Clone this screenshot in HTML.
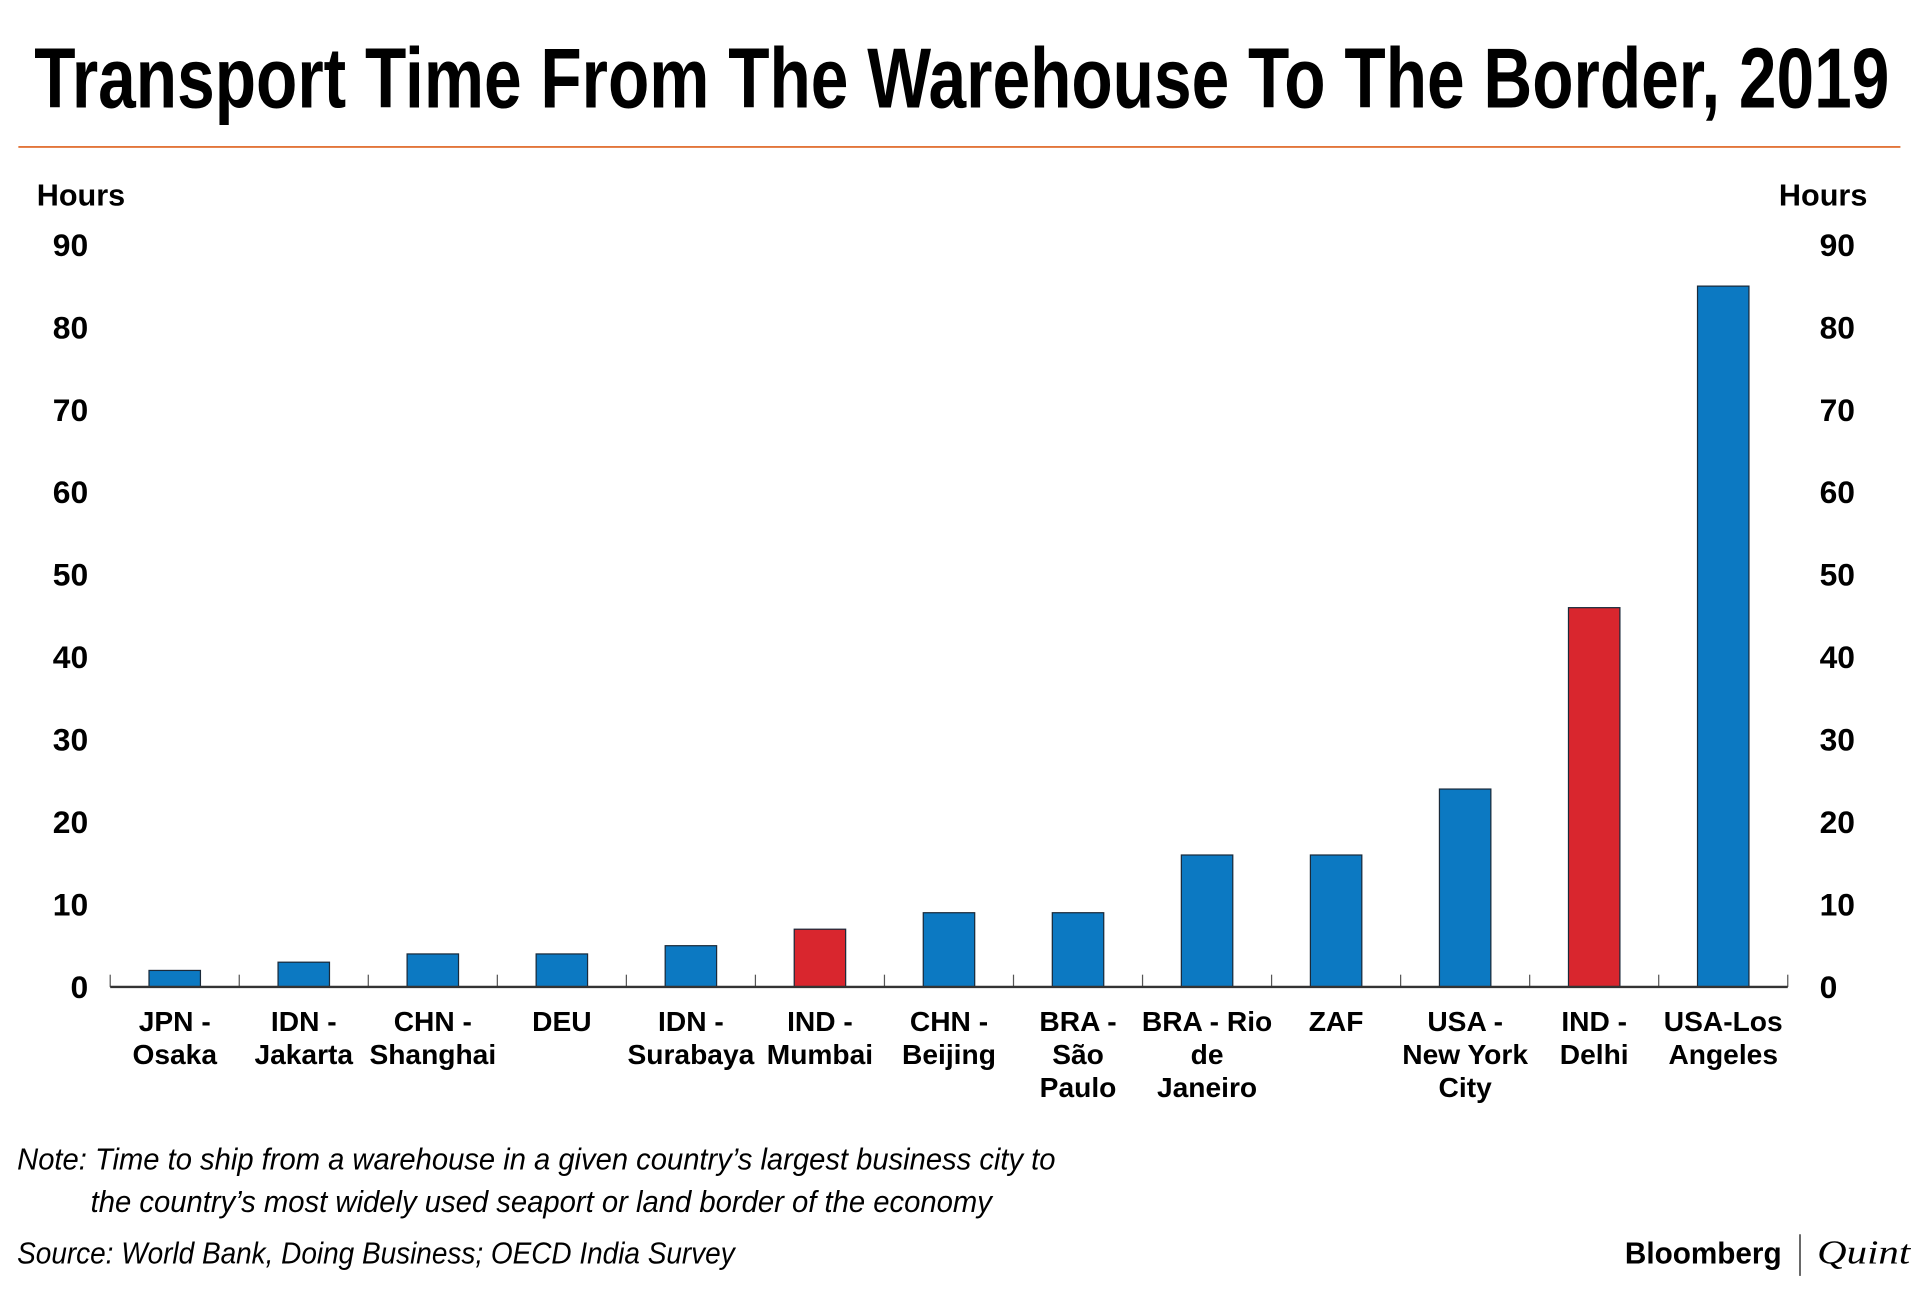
<!DOCTYPE html>
<html><head><meta charset="utf-8"><style>
html,body{margin:0;padding:0;background:#fff;}
svg{display:block;}
text{font-family:"Liberation Sans Narrow","Liberation Sans",sans-serif;}
</style></head><body>
<svg id="chart" width="1920" height="1289" viewBox="0 0 1568 1052.7" preserveAspectRatio="none" xmlns="http://www.w3.org/2000/svg">
<text x="28" y="88" font-size="70" font-weight="bold" textLength="1515" lengthAdjust="spacingAndGlyphs">Transport Time From The Warehouse To The Border, 2019</text>
<line x1="15" y1="120" x2="1552" y2="120" stroke="#e2753a" stroke-width="1.5"/>
<text x="30" y="168" font-size="25" font-weight="bold">Hours</text>
<text x="1525" y="168" font-size="25" font-weight="bold" text-anchor="end">Hours</text>
<g id="yticks"></g>
<g id="bars"></g>
<g id="xlabels"></g>
<line x1="90" y1="806" x2="1460" y2="806" stroke="#333" stroke-width="2"/>
<text x="14" y="955" font-size="25" font-style="italic" textLength="848" lengthAdjust="spacingAndGlyphs">Note: Time to ship from a warehouse in a given country’s largest business city to</text>
<text x="74" y="990" font-size="25" font-style="italic" textLength="736" lengthAdjust="spacingAndGlyphs">the country’s most widely used seaport or land border of the economy</text>
<text x="14" y="1032" font-size="25" font-style="italic" textLength="586" lengthAdjust="spacingAndGlyphs">Source: World Bank, Doing Business; OECD India Survey</text>
<text x="1327" y="1032" font-size="25" font-weight="bold" textLength="128" lengthAdjust="spacingAndGlyphs">Bloomberg</text>
<line x1="1470" y1="1008" x2="1470" y2="1042" stroke="#333" stroke-width="1.2"/>
<text x="1484" y="1032" font-size="28" font-style="italic" style="font-family:'Liberation Serif',serif" textLength="76" lengthAdjust="spacingAndGlyphs">Quint</text>
</svg>
<script>
const categories=[["JPN -","Osaka"],["IDN -","Jakarta"],["CHN -","Shanghai"],["DEU"],["IDN -","Surabaya"],["IND -","Mumbai"],["CHN -","Beijing"],["BRA -","São","Paulo"],["BRA - Rio","de","Janeiro"],["ZAF"],["USA -","New York","City"],["IND -","Delhi"],["USA-Los","Angeles"]];
const values=[2,3,4,4,5,7,9,9,16,16,24,46,85];
const highlight=[false,false,false,false,false,true,false,false,false,false,false,true,false];
const tickValues=[0,10,20,30,40,50,60,70,80,90];
const NS="http://www.w3.org/2000/svg";
const x0=90,x1=1460,yBase=806,yTop=200,vMax=90;
const bw=(x1-x0)/categories.length;
function y(v){return yBase-(v/vMax)*(yBase-yTop);}
function xc(i){return x0+bw*(i+0.5);}
function mk(tag,attrs,parent){const e=document.createElementNS(NS,tag);for(const k in attrs)e.setAttribute(k,attrs[k]);parent.appendChild(e);return e;}
const yt=document.getElementById('yticks');
tickValues.forEach(v=>{
  const l=mk('text',{x:72,y:y(v)+9,'font-size':26,'font-weight':'bold','text-anchor':'end'},yt);
  
  
  l.textContent=v;
  const r=mk('text',{x:1486,y:y(v)+9,'font-size':26,'font-weight':'bold'},yt);
  
  
  r.textContent=v;
});
const bg=document.getElementById('bars');
for(let i=0;i<=categories.length;i++){
  const t=mk('line',{x1:x0+bw*i,x2:x0+bw*i,y1:yBase,y2:yBase-10,stroke:'#555','stroke-width':1},bg);
  
  
}
values.forEach((v,i)=>{
  const r=mk('rect',{x:xc(i)-21,y:y(v),width:42,height:yBase-y(v),fill:highlight[i]?'#d9262e':'#0c79c2',stroke:'#1a2a3a','stroke-width':1},bg);
  
  
});
const xl=document.getElementById('xlabels');
categories.forEach((c,i)=>{
  c.forEach((line,j)=>{
    const t=mk('text',{x:xc(i),y:842+j*27,'font-size':23,'font-weight':'bold','text-anchor':'middle'},xl);
    
    
    t.textContent=line;
  });
});
</script>
</body></html>
